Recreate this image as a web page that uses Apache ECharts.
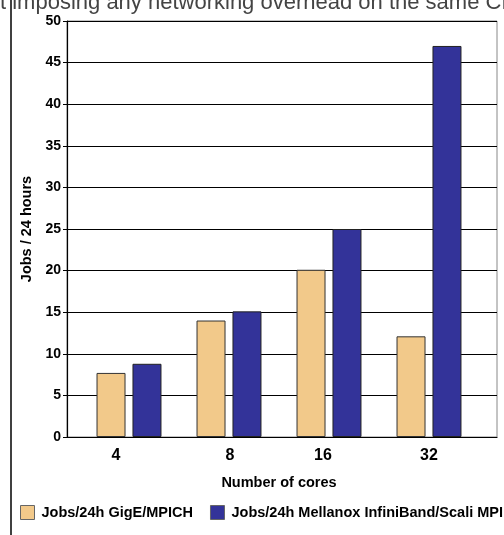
<!DOCTYPE html>
<html>
<head>
<meta charset="utf-8">
<style>
  html, body { margin: 0; padding: 0; background: #ffffff; }
  #chart { width: 504px; height: 535px; }
</style>
<script src="https://cdn.jsdelivr.net/npm/echarts@6/dist/echarts.min.js"></script>
</head>
<body>
<div id="chart"></div>
<script>
// Throughput per configuration, jobs completed per 24 hours
const coreCounts = ['4', '8', '16', '32'];
const gigeJobs = [7.7, 14, 20.1, 12.1];
const infinibandJobs = [8.8, 15.1, 25, 47];
const seriesNames = ['Jobs/24h GigE/MPICH', 'Jobs/24h Mellanox InfiniBand/Scali MPI'];
const yTicks = { min: 0, max: 50, step: 5 };
// small horizontal nudges of the category labels (px, negative = left)
const labelShift = [-13, 1, -6, 0];

const chart = echarts.init(document.getElementById('chart'), null, { renderer: 'canvas' });

const boldFont = 'Liberation Sans, Arial, Helvetica, sans-serif';

const richLabels = {};
labelShift.forEach((s, i) => {
  richLabels['c' + i] = {
    fontSize: 16, fontWeight: 'bold', color: '#000', fontFamily: boldFont,
    padding: s < 0 ? [0, -2 * s, 0, 0] : [0, 0, 0, 2 * s]
  };
});

const option = {
  animation: false,
  backgroundColor: '#ffffff',
  grid: [
    // plot frame with the horizontal gridlines
    { left: 67, right: 7, top: 21, bottom: 98, show: true, borderColor: '#888', borderWidth: 1, containLabel: false },
    // area that holds the column clusters
    { left: 79, width: 400, top: 21, bottom: 98, containLabel: false }
  ],
  xAxis: [
    {
      gridIndex: 0, type: 'category', data: coreCounts,
      axisLine: { show: true, lineStyle: { color: '#000', width: 1.2 } },
      axisTick: { show: false }, axisLabel: { show: false }, splitLine: { show: false }
    },
    {
      gridIndex: 1, type: 'category', data: coreCounts,
      axisLine: { show: false }, axisTick: { show: false },
      axisLabel: {
        margin: 11,
        formatter: (v, i) => '{c' + i + '|' + v + '}',
        rich: richLabels
      },
      name: 'Number of cores', nameLocation: 'middle', nameGap: 38,
      nameTextStyle: { fontSize: 14.5, fontWeight: 'bold', color: '#000', fontFamily: boldFont }
    }
  ],
  yAxis: [
    {
      gridIndex: 0, type: 'value', min: yTicks.min, max: yTicks.max, interval: yTicks.step,
      axisLine: { show: true, lineStyle: { color: '#000', width: 1.2 } },
      axisTick: { show: true, inside: false, length: 4, lineStyle: { color: '#000' } },
      axisLabel: { margin: 6, fontSize: 14, fontWeight: 'bold', color: '#000', fontFamily: boldFont },
      splitLine: { show: true, lineStyle: { color: '#000', width: 1 } },
      name: 'Jobs / 24 hours', nameLocation: 'middle', nameGap: 28, nameRotate: 90,
      nameTextStyle: { fontSize: 14.5, fontWeight: 'bold', color: '#000', fontFamily: boldFont }
    },
    {
      gridIndex: 1, type: 'value', min: yTicks.min, max: yTicks.max, interval: yTicks.step,
      show: false
    }
  ],
  legend: {
    left: 20, top: 505, padding: 0, itemGap: 17,
    itemWidth: 14, itemHeight: 14, icon: 'rect',
    itemStyle: { borderColor: '#666', borderWidth: 1 },
    textStyle: { fontSize: 14.5, fontWeight: 'bold', color: '#000', fontFamily: boldFont, padding: [0, 0, 0, 2] },
    data: seriesNames
  },
  series: [
    {
      name: seriesNames[0], type: 'bar', xAxisIndex: 1, yAxisIndex: 1,
      data: gigeJobs, barWidth: 29, barGap: '24%',
      itemStyle: { color: '#F2C98A', borderColor: '#333', borderWidth: 1 }
    },
    {
      name: seriesNames[1], type: 'bar', xAxisIndex: 1, yAxisIndex: 1,
      data: infinibandJobs, barWidth: 29, barGap: '24%',
      itemStyle: { color: '#333399', borderColor: '#222', borderWidth: 1 }
    }
  ],
  graphic: [
    {
      type: 'text', left: 0, top: -8, silent: true,
      style: {
        text: 't imposing any networking overhead on the same CPU',
        fontSize: 22, fontFamily: 'Liberation Sans, Arial, sans-serif',
        fill: '#444'
      }
    },
    {
      type: 'line', silent: true,
      shape: { x1: 11, y1: 0, x2: 11, y2: 535 },
      style: { stroke: '#000', lineWidth: 1.5 }
    }
  ]
};

chart.setOption(option);
</script>
</body>
</html>
